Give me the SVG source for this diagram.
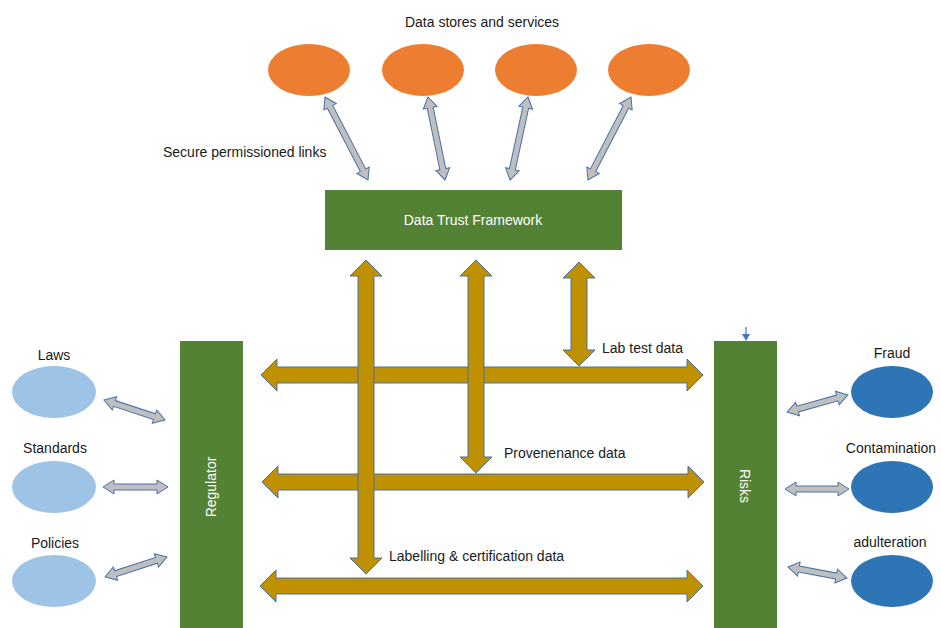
<svg xmlns="http://www.w3.org/2000/svg" width="941" height="628" viewBox="0 0 941 628">
<style>
text{font-family:"Liberation Sans","Open Sans",Arial,sans-serif;font-size:14px;fill:#1a1a1a}
.w{fill:#ffffff}
.m{text-anchor:middle}
.box{fill:#548235}
.store{fill:#ED7D31}
.rule{fill:#9DC3E6}
.risk{fill:#2E75B6}
.gold{fill:#BF9000;stroke:#4A6FA8;stroke-width:1}
.gray{fill:#BFBFBF;stroke:#4A6FA8;stroke-width:1}
</style>
<defs>
<polygon id="ga" points="0,0 11,-7 11,-3 -11,-3 -11,-7 0,0"/>
</defs>
<rect width="941" height="628" fill="#ffffff"/>

<text class="m" x="482" y="27">Data stores and services</text>
<text x="163" y="157">Secure permissioned links</text>

<g id="store1"><ellipse class="store" cx="309" cy="70" rx="41" ry="26"/></g>
<g id="store2"><ellipse class="store" cx="423" cy="70" rx="41" ry="26"/></g>
<g id="store3"><ellipse class="store" cx="536" cy="70" rx="41" ry="26"/></g>
<g id="store4"><ellipse class="store" cx="649" cy="70" rx="41" ry="26"/></g>

<g id="framework">
<rect class="box" x="325" y="190" width="297" height="60"/>
<text class="w m" x="473" y="225">Data Trust Framework</text>
</g>

<g id="regulator">
<rect class="box" x="180" y="341" width="63" height="290"/>
<text class="w m" transform="translate(216,487) rotate(-90)">Regulator</text>
</g>

<g id="risks">
<rect class="box" x="714" y="341" width="63" height="290"/>
<text class="w m" transform="translate(740,486) rotate(90)">Risks</text>
</g>

<g id="laws"><ellipse class="rule" cx="54" cy="392" rx="42" ry="26"/><text class="m" x="54" y="360">Laws</text></g>
<g id="standards"><ellipse class="rule" cx="54" cy="487" rx="42" ry="26"/><text class="m" x="55" y="453">Standards</text></g>
<g id="policies"><ellipse class="rule" cx="54" cy="581" rx="42" ry="26"/><text class="m" x="55" y="548">Policies</text></g>

<g id="fraud"><ellipse class="risk" cx="892" cy="392" rx="41" ry="26"/><text class="m" x="892" y="358">Fraud</text></g>
<g id="contamination"><ellipse class="risk" cx="892" cy="487" rx="41" ry="26"/><text class="m" x="891" y="453">Contamination</text></g>
<g id="adulteration"><ellipse class="risk" cx="892" cy="581" rx="41" ry="26"/><text class="m" x="890" y="547">adulteration</text></g>

<g id="connectors">
<!-- gray double arrows: local length L along x -->
<polygon class="gray" transform="translate(325,97) rotate(62.6)" points="0,0 11,-7 11,-3 82.5,-3 82.5,-7 93.5,0 82.5,7 82.5,3 11,3 11,7"/>
<polygon class="gray" transform="translate(428,97) rotate(78.4)" points="0,0 11,-7 11,-3 73.7,-3 73.7,-7 84.7,0 73.7,7 73.7,3 11,3 11,7"/>
<polygon class="gray" transform="translate(528,97) rotate(102.2)" points="0,0 11,-7 11,-3 73.9,-3 73.9,-7 84.9,0 73.9,7 73.9,3 11,3 11,7"/>
<polygon class="gray" transform="translate(631,97) rotate(117.4)" points="0,0 11,-7 11,-3 82.5,-3 82.5,-7 93.5,0 82.5,7 82.5,3 11,3 11,7"/>

<polygon class="gray" transform="translate(104,400) rotate(18.2)" points="0,0 11,-7 11,-3 53.2,-3 53.2,-7 64.2,0 53.2,7 53.2,3 11,3 11,7"/>
<polygon class="gray" transform="translate(103,487)" points="0,0 11,-7 11,-3 54,-3 54,-7 65,0 54,7 54,3 11,3 11,7"/>
<polygon class="gray" transform="translate(105,577) rotate(-17.9)" points="0,0 11,-7 11,-3 54.1,-3 54.1,-7 65.1,0 54.1,7 54.1,3 11,3 11,7"/>

<polygon class="gray" transform="translate(787,412) rotate(-15.6)" points="0,0 11,-7 11,-3 52.3,-3 52.3,-7 63.3,0 52.3,7 52.3,3 11,3 11,7"/>
<polygon class="gray" transform="translate(785,489)" points="0,0 11,-7 11,-3 53,-3 53,-7 64,0 53,7 53,3 11,3 11,7"/>
<polygon class="gray" transform="translate(788,567) rotate(10.6)" points="0,0 11,-7 11,-3 49,-3 49,-7 60,0 49,7 49,3 11,3 11,7"/>

<!-- gold horizontal double arrows -->
<polygon class="gold" points="261,375 277,359 277,367 687,367 687,359 703,375 687,391 687,383 277,383 277,391"/>
<polygon class="gold" points="262,482 278,466 278,474 688,474 688,466 704,482 688,498 688,490 278,490 278,498"/>
<polygon class="gold" points="260,586 276,570 276,578 687,578 687,570 703,586 687,602 687,594 276,594 276,602"/>

<!-- gold vertical double arrows -->
<polygon class="gold" points="366,260 382,276 374,276 374,558 382,558 366,574 350,558 358,558 358,276 350,276"/>
<polygon class="gold" points="476,260 492,276 484,276 484,457 492,457 476,473 460,457 468,457 468,276 460,276"/>
<polygon class="gold" points="579,262 595,278 587,278 587,350 595,350 579,366 563,350 571,350 571,278 563,278"/>

<!-- small blue arrow onto Risks -->
<line x1="746" y1="327" x2="746" y2="335" stroke="#4472C4" stroke-width="1.2"/>
<polygon points="742,334 750,334 746,341" fill="#4472C4"/>
</g>

<text x="602" y="353">Lab test data</text>
<text x="504" y="458">Provenenance data</text>
<text x="389" y="561">Labelling &amp; certification data</text>
</svg>
